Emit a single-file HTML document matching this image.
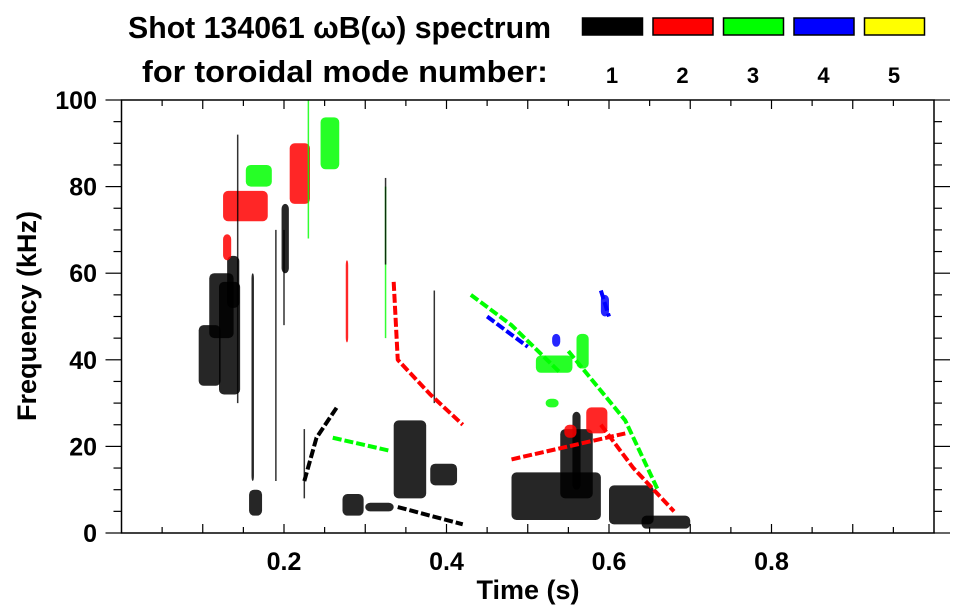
<!DOCTYPE html>
<html><head><meta charset="utf-8"><style>
body{margin:0;background:#fff;}
svg{display:block;font-family:"Liberation Sans",sans-serif;font-weight:bold;}
</style></head><body>
<svg id="chart" width="963" height="615" viewBox="0 0 963 615" xmlns="http://www.w3.org/2000/svg">
<rect width="963" height="615" fill="#fff"/>
<text x="128" y="38" font-size="31" textLength="423" lengthAdjust="spacingAndGlyphs">Shot 134061 ωB(ω) spectrum</text>
<text x="142" y="82" font-size="31" textLength="406" lengthAdjust="spacingAndGlyphs">for toroidal mode number:</text>
<g id="legend"></g>
<g id="marks"></g>
<g id="axes"></g>
<text x="528" y="599" font-size="27" text-anchor="middle">Time (s)</text>
<text transform="translate(36,316) rotate(-90)" font-size="27" text-anchor="middle">Frequency (kHz)</text>
</svg>
<script>
// ---- data ----
const modeNames = ["1","2","3","4","5"];
const modeColors = ["#000000","#ff0000","#00ff00","#0000ff","#ffff00"];
const xTicks = [0.2,0.4,0.6,0.8];
const yTicks = [0,20,40,60,80,100];
// patches: [mode, tStart, tEnd, fLow, fHigh]
const patchMode = [0,0,0,0,0,0,0,0,0,0,0,0,0,0,0,0,1,1,1,1,1,1,2,2,2,2,2,3,3];
const patchT0 = [0.095,0.108,0.12,0.13,0.197,0.157,0.272,0.30,0.335,0.38,0.48,0.54,0.60,0.64,0.555,0.16,0.125,0.125,0.207,0.572,0.545,0.276,0.153,0.245,0.51,0.522,0.56,0.59,0.53];
const patchT1 = [0.122,0.138,0.146,0.145,0.206,0.173,0.298,0.335,0.375,0.413,0.59,0.58,0.655,0.70,0.565,0.163,0.18,0.135,0.232,0.598,0.56,0.279,0.185,0.268,0.555,0.538,0.575,0.6,0.54];
const patchFLow = [34,45,32,52,60,4,4,5,8,11,3,8,2,1,10,12,72,63,76,23,22,44,80,84,37,29,38,50,43];
const patchFHigh = [48,60,58,64,76,10,9,7,26,16,14,24,11,4,28,60,79,69,90,29,25,63,85,96,41,31,46,55,46];
// polylines: per mode list of points [t,f]
const lineMode = [0,0,1,1,1,2,2,2,3,3];
const lineT = [[0.225,0.24,0.265],[0.34,0.38,0.42],[0.335,0.34,0.38,0.42],[0.48,0.55,0.62],[0.59,0.63,0.68],[0.26,0.33],[0.43,0.48,0.54],[0.55,0.62,0.66],[0.45,0.5],[0.59,0.6]];
const lineF = [[12,22,29],[6,4,2],[58,40,32,25],[17,20,23],[25,15,5],[22,19],[55,48,37],[42,26,10],[50,43],[56,50]];
const streakT = [0.225,0.23,0.325,0.325,0.385,0.19,0.2,0.143];
const streakF0 = [8,68,45,62,30,12,48,30];
const streakF1 = [24,100,80,82,56,70,70,92];
const streakMode = [0,2,2,0,0,0,0,0];

// ---- scales ----
const X0=121.5, X1=934, Y0=533, Y1=100;
const xs = t => X0 + t*(X1-X0);
const ys = f => Y0 - f/100*(Y0-Y1);
const NS="http://www.w3.org/2000/svg";
function mk(tag, parent, attrs){const e=document.createElementNS(NS,tag);for(const k in attrs)e.setAttribute(k,attrs[k]);parent.appendChild(e);return e;}

// legend
const lg=document.getElementById('legend');
modeNames.forEach((n,i)=>{
  const x=582+i*70.5;
  const r=mk('rect',lg,{x:x+0.5,y:18,width:60,height:17,fill:modeColors[i],stroke:'#000','stroke-width':1.5});
  
  
  const t=mk('text',lg,{x:x+30,y:83,'font-size':22,'text-anchor':'middle'});
  t.textContent=n;
  
  
});

// marks
const mg=document.getElementById('marks');
patchT0.forEach((t0,i)=>{
  const r=mk('rect',mg,{x:xs(t0),y:ys(patchFHigh[i]),width:xs(patchT1[i])-xs(t0),height:ys(patchFLow[i])-ys(patchFHigh[i]),fill:modeColors[patchMode[i]],rx:5,opacity:0.85});
  
  
});
streakT.forEach((t,i)=>{
  const l=mk('line',mg,{x1:xs(t),x2:xs(t),y1:ys(streakF0[i]),y2:ys(streakF1[i]),stroke:modeColors[streakMode[i]],'stroke-width':1.5,opacity:0.8});
  
  
});
lineT.forEach((ts,i)=>{
  const pts=ts.map((t,j)=>xs(t)+','+ys(lineF[i][j])).join(' ');
  const p=mk('polyline',mg,{points:pts,fill:'none',stroke:modeColors[lineMode[i]],'stroke-width':4,'stroke-linejoin':'round','stroke-dasharray':'9 3'});
  
  
});

// axes
const ax=document.getElementById('axes');
mk('rect',ax,{x:X0,y:Y1,width:X1-X0,height:Y0-Y1,fill:'none',stroke:'#000','stroke-width':1.5});
for(let k=1;k<20;k++){const t=k*0.05;const maj=Math.abs(t*10-Math.round(t*10))<1e-6;const len=maj?9:6;
  mk('line',ax,{x1:xs(t),x2:xs(t),y1:Y0,y2:Y0-len,stroke:'#000','stroke-width':1.2});
  mk('line',ax,{x1:xs(t),x2:xs(t),y1:Y1,y2:Y1+len,stroke:'#000','stroke-width':1.2});}
for(let k=0;k<=20;k++){const f=k*5;const maj=k%4===0;const len=maj?16:8;
  mk('line',ax,{x1:X0,x2:X0-len,y1:ys(f),y2:ys(f),stroke:'#000','stroke-width':1.2});
  mk('line',ax,{x1:X1,x2:X1+len,y1:ys(f),y2:ys(f),stroke:'#000','stroke-width':1.2});}
xTicks.forEach(t=>{const e=mk('text',ax,{x:xs(t),y:570,'font-size':25,'text-anchor':'middle'});e.textContent=t.toFixed(1);
  
  });
yTicks.forEach(f=>{const e=mk('text',ax,{x:97,y:ys(f)+9,'font-size':25,'text-anchor':'end'});e.textContent=f;
  
  });
</script>
</body></html>
